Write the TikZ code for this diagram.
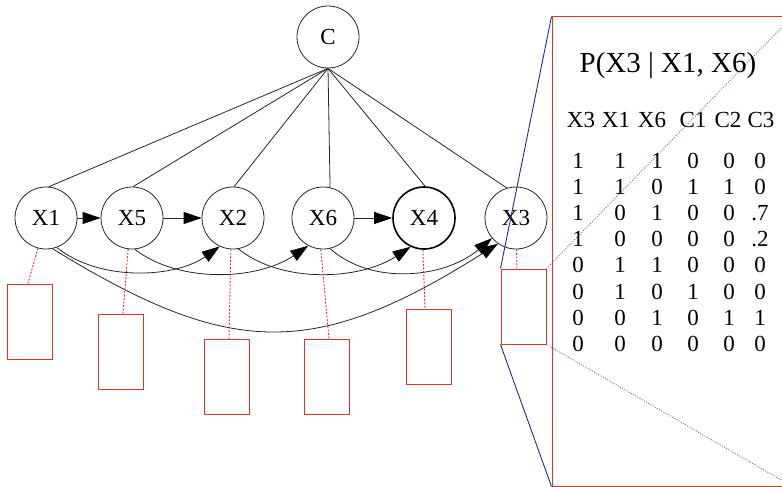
\documentclass[tikz,border=0pt]{standalone}
\usepackage{fontspec}
\setmainfont{Liberation Serif}
\usetikzlibrary{arrows.meta}
\definecolor{boxred}{RGB}{222,52,40}
\definecolor{navy}{RGB}{40,40,140}
\definecolor{lightnavy}{RGB}{110,110,200}
\tikzset{
  var/.style={circle,draw=black!85,line width=0.8pt,minimum size=62pt,inner sep=0pt,font=\fontsize{23}{23}\selectfont},
  arr/.style={draw=black!85,line width=0.8pt,-{Triangle[length=18pt,width=12pt,color=black]}},
  plain/.style={draw=black!85,line width=0.8pt},
  cpt/.style={draw=boxred,line width=1pt,minimum width=45pt,minimum height=75pt,inner sep=0pt},
  reddot/.style={draw=boxred,line width=0.9pt,dash pattern=on 2pt off 1.5pt},
  tab/.style={inner sep=0pt,font=\fontsize{23}{23}\selectfont},
}
\begin{document}
\begin{tikzpicture}[x=1pt,y=-1pt]
\useasboundingbox (0,0) rectangle (782,487);
\clip (0,0) rectangle (782,487);
% nodes
\node[var] (C) at (328,37) {C};
\node[var] (X1) at (46,218) {X1};
\node[var] (X5) at (132,218) {X5};
\node[var] (X2) at (233,218) {X2};
\node[var] (X6) at (323,218) {X6};
\node[var,line width=1.6pt,draw=black] (X4) at (424,218) {X4};
\node[var] (X3) at (516,218) {X3};
% edges from C
\draw[plain] (C.south) -- (X1.85);
\draw[plain] (C.south) -- (X5.88);
\draw[plain] (C.south) -- (X2.88);
\draw[plain] (C.south) -- (X6.77);
\draw[plain] (C.south) -- (X4.88);
\draw[plain] (C.south) -- (X3.107);
% straight arrows
\draw[arr] (X1) -- (X5);
\draw[arr] (X5) -- (X2);
\draw[arr] (X6) -- (X4);
% curved arrows
\draw[arr] (X1.-70) .. controls (100,282) and (175,278) .. (X2.-115);
\draw[arr] (X5.-85) .. controls (180,284) and (258,280) .. (X6.-118);
\draw[arr] (X2.-80) .. controls (282,284) and (360,280) .. (X4.-115);
\draw[arr] (X6.-77) .. controls (372,286) and (445,278) .. (X3.-140);
\draw[arr] (X1.-78) .. controls (230,358) and (314,360) .. (X3.-125);
% CPT boxes
\node[cpt] (b1) at (30,321.5) {};
\node[cpt] (b2) at (120.5,351.5) {};
\node[cpt] (b3) at (226.5,377) {};
\node[cpt] (b4) at (327,377) {};
\node[cpt] (b5) at (428.5,347) {};
\node[cpt] (b6) at (523.5,306.5) {};
\draw[reddot] (X1.-105) -- ([xshift=-2pt]b1.north);
\draw[reddot] (X5.-97) -- ([xshift=2.5pt]b2.north);
\draw[reddot] (X2.-94) -- ([xshift=2.5pt]b3.north);
\draw[reddot] (X6.-94) -- ([xshift=2pt]b4.north);
\draw[reddot] (X4.-92) -- ([xshift=-3.5pt]b5.north);
\draw[reddot] (X3.-89) -- ([xshift=-6.5pt]b6.north);
% zoom box
\node[draw=boxred,line width=1pt,minimum width=240pt,minimum height=469pt,inner sep=0pt] (big) at (672,251.5) {};
\draw[navy,line width=0.9pt] (b6.north west) -- (big.north west);
\draw[navy,line width=0.9pt] (b6.south west) -- (big.south west);
\draw[lightnavy,line width=0.9pt,dash pattern=on 1pt off 1.5pt] (b6.north east) -- (big.north east);
\draw[lightnavy,line width=0.9pt,dash pattern=on 1pt off 1.5pt] (b6.south east) -- (big.south east);
% table
\node[inner sep=0pt,anchor=base,font=\fontsize{29}{29}\selectfont] (title) at (668,73) {P(X3 | X1, X6)};
\foreach \t [count=\i] in {X3,X1,X6,C1,C2,C3}{
  \pgfmathsetmacro{\xx}{{581,616,652,693,728,761}[\i-1]}
  \node[tab] (h\i) at (\xx,120) {\t};
}
\foreach \row [count=\r] in {{1,1,1,0,0,0},{1,1,0,1,1,0},{1,0,1,0,0,.7},{1,0,0,0,0,.2},{0,1,1,0,0,0},{0,1,0,1,0,0},{0,0,1,0,1,1},{0,0,0,0,0,0}}{
  \pgfmathsetmacro{\yy}{161+26.1*(\r-1)}
  \foreach \v [count=\c] in \row {
    \pgfmathsetmacro{\xx}{{578,620,657,693,729,760}[\c-1]}
    \node[tab] (t\r-\c) at (\xx,\yy) {\v};
  }
}
\end{tikzpicture}
\end{document}
